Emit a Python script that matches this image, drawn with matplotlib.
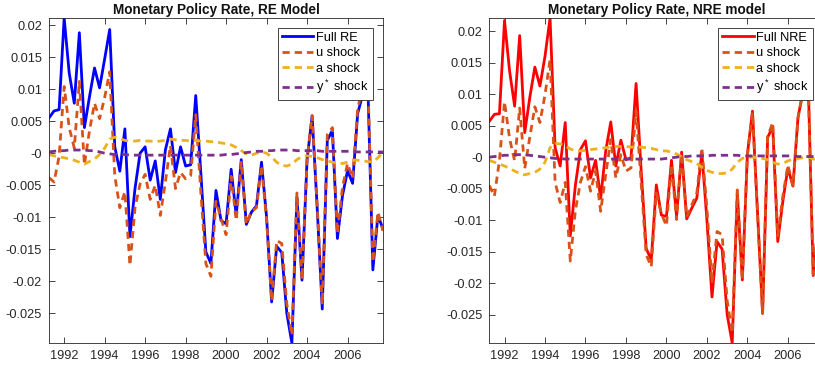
import numpy as np
import matplotlib
matplotlib.use("Agg")
import matplotlib.pyplot as plt
from matplotlib.ticker import FuncFormatter, MultipleLocator

plt.rcParams['font.family'] = ['Liberation Sans', 'DejaVu Sans']
plt.rcParams['mathtext.fontset'] = 'custom'
plt.rcParams['mathtext.rm'] = 'Liberation Sans'
plt.rcParams['mathtext.default'] = 'regular'

# quarterly dates, 1991Q2 .. 2007Q4
dates = 1991.25 + 0.25 * np.arange(67)

# RE model: policy rate and its shock decomposition
re_full = [0.0055, 0.0066, 0.0068, 0.0211, 0.0125, 0.0078, 0.0188, 0.0040, 0.0088, 0.0133,
           0.0102, 0.0147, 0.0193, 0.0010, -0.0028, 0.0038, -0.0130, -0.0055, 0.0000, 0.0010,
           -0.0042, -0.0012, -0.0072, 0.0005, 0.0038, -0.0030, 0.0010, -0.0020, -0.0018, 0.0090,
           -0.0030, -0.0154, -0.0172, -0.0058, -0.0105, -0.0110, -0.0025, -0.0097, -0.0010, -0.0111,
           -0.0092, -0.0082, -0.0014, -0.0100, -0.0232, -0.0145, -0.0155, -0.0250, -0.0296, -0.0068,
           -0.0198, -0.0010, 0.0058, -0.0085, -0.0243, 0.0020, 0.0036, -0.0133, -0.0066, -0.0027,
           -0.0047, 0.0062, 0.0092, 0.0110, -0.0182, -0.0097, -0.0118]
re_u = [-0.0038, -0.0045, -0.0005, 0.0104, 0.0040, 0.0008, 0.0112, -0.0018, 0.0035, 0.0078,
        0.0054, 0.0087, 0.0127, -0.0035, -0.0085, -0.0060, -0.0175, -0.0085, -0.0048, -0.0033,
        -0.0072, -0.0050, -0.0097, -0.0045, 0.0012, -0.0055, -0.0030, -0.0040, -0.0035, 0.0060,
        -0.0060, -0.0172, -0.0192, -0.0075, -0.0102, -0.0127, -0.0036, -0.0105, -0.0014, -0.0111,
        -0.0091, -0.0085, -0.0019, -0.0104, -0.0230, -0.0136, -0.0141, -0.0235, -0.0284, -0.0062,
        -0.0197, -0.0010, 0.0059, -0.0082, -0.0236, 0.0029, 0.0040, -0.0125, -0.0053, -0.0016,
        -0.0039, 0.0070, 0.0102, 0.0121, -0.0170, -0.0092, -0.0121]
re_a = [-0.0002, -0.0004, -0.0006, -0.0007, -0.0009, -0.0011, -0.0014, -0.0017, -0.0013, -0.0009,
        -0.0002, 0.0008, 0.0022, 0.0025, 0.0023, 0.0020, 0.0019, 0.0019, 0.0020, 0.0019,
        0.0019, 0.0018, 0.0019, 0.0020, 0.0022, 0.0021, 0.0020, 0.0020, 0.0019, 0.0020,
        0.0019, 0.0019, 0.0018, 0.0018, 0.0016, 0.0015, 0.0013, 0.0009, 0.0004, -0.0001,
        -0.0003, 0.0000, 0.0002, 0.0000, -0.0006, -0.0014, -0.0019, -0.0020, -0.0017, -0.0010,
        -0.0005, -0.0004, -0.0005, -0.0007, -0.0010, -0.0012, -0.0014, -0.0015, -0.0016, -0.0014,
        -0.0011, -0.0011, -0.0012, -0.0013, -0.0014, -0.0007, 0.0001]
re_ystar = [0.0002, 0.0003, 0.0004, 0.0004, 0.0005, 0.0005, 0.0005, 0.0005, 0.0004, 0.0004,
            0.0002, 0.0000, -0.0001, -0.0002, -0.0002, -0.0002, -0.0003, -0.0003, -0.0003, -0.0003,
            -0.0003, -0.0003, -0.0003, -0.0003, -0.0003, -0.0003, -0.0003, -0.0003, -0.0003, -0.0003,
            -0.0003, -0.0003, -0.0003, -0.0003, -0.0003, -0.0002, -0.0002, -0.0001, 0.0000, 0.0001,
            0.0002, 0.0003, 0.0003, 0.0004, 0.0004, 0.0005, 0.0005, 0.0005, 0.0005, 0.0004,
            0.0004, 0.0004, 0.0004, 0.0004, 0.0003, 0.0003, 0.0003, 0.0003, 0.0003, 0.0003,
            0.0003, 0.0002, 0.0002, 0.0002, 0.0002, 0.0002, 0.0002]

# NRE model
nre_full = [0.0057, 0.0068, 0.0069, 0.0217, 0.0137, 0.0081, 0.0193, 0.0039, 0.0095, 0.0143,
            0.0113, 0.0160, 0.0221, 0.0015, -0.0014, 0.0055, -0.0125, -0.0045, 0.0012, 0.0026,
            -0.0033, -0.0005, -0.0065, 0.0010, 0.0056, -0.0014, 0.0027, -0.0004, -0.0001, 0.0117,
            -0.0020, -0.0145, -0.0163, -0.0044, -0.0092, -0.0094, -0.0005, -0.0094, 0.0008, -0.0098,
            -0.0081, -0.0065, 0.0007, -0.0100, -0.0222, -0.0134, -0.0146, -0.0250, -0.0295, -0.0057,
            -0.0195, 0.0005, 0.0073, -0.0088, -0.0248, 0.0031, 0.0049, -0.0134, -0.0070, -0.0017,
            -0.0046, 0.0063, 0.0105, 0.0125, -0.0188, -0.0100, -0.0120]
nre_u = [-0.0045, -0.0062, -0.0005, 0.0088, 0.0030, -0.0006, 0.0078, -0.0018, 0.0032, 0.0080,
         0.0055, 0.0099, 0.0155, -0.0040, -0.0072, -0.0040, -0.0165, -0.0085, -0.0040, -0.0015,
         -0.0054, -0.0022, -0.0086, -0.0028, 0.0028, -0.0033, 0.0004, -0.0022, -0.0017, 0.0073,
         -0.0040, -0.0155, -0.0174, -0.0057, -0.0090, -0.0109, -0.0012, -0.0099, 0.0006, -0.0095,
         -0.0076, -0.0057, 0.0015, -0.0081, -0.0200, -0.0118, -0.0123, -0.0228, -0.0279, -0.0052,
         -0.0195, 0.0003, 0.0071, -0.0089, -0.0248, 0.0033, 0.0055, -0.0125, -0.0062, -0.0013,
         -0.0045, 0.0063, 0.0105, 0.0124, -0.0186, -0.0097, -0.0117]
nre_a = [-0.0005, -0.0008, -0.0011, -0.0014, -0.0018, -0.0022, -0.0026, -0.0028, -0.0026, -0.0024,
         -0.0019, -0.0008, 0.0015, 0.0022, 0.0021, 0.0018, 0.0013, 0.0010, 0.0010, 0.0011,
         0.0012, 0.0013, 0.0014, 0.0015, 0.0016, 0.0017, 0.0017, 0.0017, 0.0016, 0.0016,
         0.0016, 0.0015, 0.0014, 0.0012, 0.0010, 0.0010, 0.0008, 0.0005, 0.0001, -0.0004,
         -0.0007, -0.0010, -0.0016, -0.0021, -0.0024, -0.0026, -0.0026, -0.0025, -0.0019, -0.0008,
         -0.0002, 0.0000, 0.0000, -0.0001, -0.0002, -0.0004, -0.0008, -0.0011, -0.0010, -0.0006,
         -0.0003, -0.0002, -0.0001, 0.0000, -0.0003, -0.0004, -0.0004]
nre_ystar = [0.0000, 0.0001, 0.0002, 0.0003, 0.0003, 0.0004, 0.0004, 0.0004, 0.0003, 0.0002,
             0.0001, 0.0000, -0.0001, -0.0002, -0.0002, -0.0003, -0.0003, -0.0003, -0.0003, -0.0003,
             -0.0003, -0.0003, -0.0003, -0.0003, -0.0003, -0.0003, -0.0003, -0.0003, -0.0003, -0.0003,
             -0.0003, -0.0003, -0.0003, -0.0003, -0.0003, -0.0002, -0.0001, 0.0000, 0.0001, 0.0001,
             0.0002, 0.0002, 0.0002, 0.0002, 0.0003, 0.0003, 0.0003, 0.0003, 0.0003, 0.0003,
             0.0002, 0.0002, 0.0002, 0.0002, 0.0002, 0.0002, 0.0002, 0.0002, 0.0002, 0.0002,
             0.0002, 0.0001, 0.0001, 0.0001, 0.0001, 0.0001, 0.0001]

year_ticks = list(range(1992, 2007, 2))

axis_col = '#262626'
dash = (0, (2.6, 1.8))
fs = 9.2

fig = plt.figure(figsize=(8.15, 3.72), dpi=100)
ax1 = fig.add_axes([0.0601, 0.078, 0.4098, 0.8737])
# second panel runs slightly past the right edge of the figure
ax2 = fig.add_axes([0.6004, 0.078, 0.4098, 0.8737])


def panel(ax, full, u, a, ys, full_col, full_lbl, title, ylim):
    ax.plot(dates, full, color=full_col, lw=2.0, label=full_lbl)
    ax.plot(dates, u, color='#D95319', lw=2.0, ls=dash, label='u shock')
    ax.plot(dates, a, color='#EDB120', lw=2.0, ls=dash, label='a shock')
    ax.plot(dates, ys, color='#7E2F8E', lw=2.0, ls=dash, label='y$^*$ shock')
    ax.set_xlim(dates[0], dates[-1])
    ax.set_ylim(*ylim)
    ax.set_xticks(year_ticks)
    ax.yaxis.set_major_locator(MultipleLocator(0.005))
    ax.yaxis.set_major_formatter(FuncFormatter(lambda v, p: '%g' % round(v, 4)))
    ax.tick_params(direction='in', length=4, width=0.6, top=True, right=True,
                   labelsize=fs, colors=axis_col, pad=5)
    for s in ax.spines.values():
        s.set_color(axis_col)
        s.set_linewidth(0.6)
    ax.set_title(title, fontsize=fs + 0.6, fontweight='bold', pad=3, color='#111111')
    leg = ax.legend(loc='upper right', bbox_to_anchor=(0.969, 0.970), borderaxespad=0,
                    fontsize=fs, handlelength=2.5, handletextpad=0.2, labelspacing=0.28,
                    borderpad=0.3, fancybox=False, framealpha=1, edgecolor=axis_col)
    leg.get_frame().set_linewidth(0.6)


panel(ax1, re_full, re_u, re_a, re_ystar, '#0000FF', 'Full RE',
      'Monetary Policy Rate, RE Model', (-0.0296, 0.0211))
panel(ax2, nre_full, nre_u, nre_a, nre_ystar, '#FF0000', 'Full NRE',
      'Monetary Policy Rate, NRE model', (-0.0295, 0.0221))

fig.savefig('out.png', dpi=100)
